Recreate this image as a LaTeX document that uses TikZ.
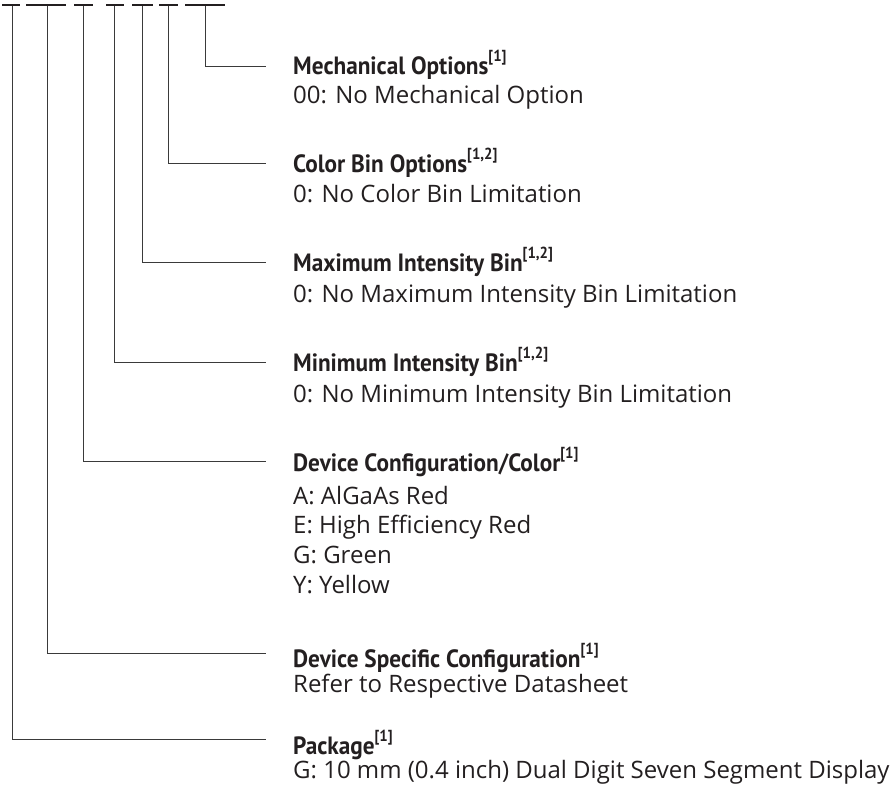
\documentclass[tikz,border=0pt]{standalone}
\usepackage{fontspec}
\setmainfont{Open Sans}
\newfontfamily\titlefont[FakeStretch=0.93]{PT Sans Bold}
\definecolor{ink}{HTML}{231F20}
\definecolor{wire}{HTML}{3A3A3A}
\begin{document}
\begin{tikzpicture}[x=1pt,y=-1pt,
  bar/.style={line width=2.6pt,draw=ink},
  wirel/.style={line width=1pt,draw=wire},
  ttl/.style={anchor=base west,inner sep=0pt,text=ink,font=\titlefont\fontsize{25}{29}\selectfont},
  bdy/.style={anchor=base west,inner sep=0pt,text=ink,font=\fontsize{24}{29}\selectfont}]
\useasboundingbox (0,0) rectangle (892,785);
% top bars
\foreach \a/\b in {2/20,26/66,74/93,106/124,132/153,159/178,185/225}
  \draw[bar] (\a,5) -- (\b,5);
% coordinates of wire starts and ends
\foreach \n/\x/\y in {mech/205/66,cbin/168/163,maxi/142/262,mini/114/362,dcfg/83/461,dspc/47/653,pkg/12/739}{
  \coordinate (\n-top) at (\x,6);
  \coordinate (\n-corner) at (\x,\y);
  \coordinate (\n-end) at (266,\y);
}
\foreach \n in {mech,cbin,maxi,mini,dcfg,dspc,pkg}
  \draw[wirel] (\n-top) -- (\n-corner) -- (\n-end);
% texts
\newcommand\sups[1]{\raisebox{0.5em}{\fontsize{16}{16}\selectfont #1}}
\node[ttl] (mecht) at (293,74) {Mechanical Options\sups{[1]}};
\node[bdy] (mechb) at (293,103) {00: No Mechanical Option};
\node[ttl] (cbint) at (293,172) {Color Bin Options\sups{[1,2]}};
\node[bdy] (cbinb) at (293,202) {0: No Color Bin Limitation};
\node[ttl] (maxit) at (293,271) {Maximum Intensity Bin\sups{[1,2]}};
\node[bdy] (maxib) at (293,302) {0: No Maximum Intensity Bin Limitation};
\node[ttl] (minit) at (293,371) {Minimum Intensity Bin\sups{[1,2]}};
\node[bdy] (minib) at (293,402) {0: No Minimum Intensity Bin Limitation};
\node[ttl] (dcfgt) at (293,471) {Device Configuration/Color\sups{[1]}};
\node[bdy] (dcfga) at (293,504) {A: AlGaAs Red};
\node[bdy] (dcfge) at (293,533) {E: High Efficiency Red};
\node[bdy] (dcfgg) at (293,563) {G: Green};
\node[bdy] (dcfgy) at (293,593) {Y: Yellow};
\node[ttl] (dspct) at (293,667) {Device Specific Configuration\sups{[1]}};
\node[bdy] (dspcb) at (293,692) {Refer to Respective Datasheet};
\node[ttl] (pkgt) at (293,754) {Package\sups{[1]}};
\node[bdy] (pkgb) at (293,778) {G: 10 mm (0.4 inch) Dual Digit Seven Segment Display};
\end{tikzpicture}
\end{document}
